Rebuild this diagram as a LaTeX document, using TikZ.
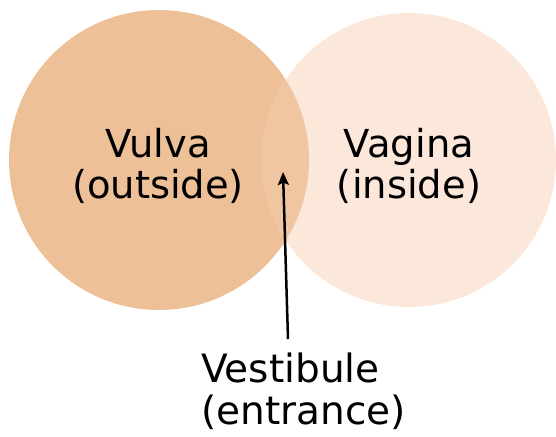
\documentclass[tikz,border=0pt]{standalone}
\usepackage{fontspec}
\setmainfont{DejaVu Sans}
\usetikzlibrary{arrows.meta}
\definecolor{vulvac}{RGB}{237,192,151}
\definecolor{vaginac}{RGB}{252,231,219}
\definecolor{overlapc}{RGB}{240,198,161}
\tikzset{
  lbl/.style={align=center, inner sep=0pt, font=\fontsize{38.5}{40.5}\selectfont, text=black},
  pointer/.style={line width=2.5pt, -{Stealth[length=13pt,width=11pt,inset=2.5pt]}}
}
\begin{document}
\begin{tikzpicture}[x=1pt,y=-1pt]
\useasboundingbox (0,0) rectangle (556,436);
\fill[vulvac] (159,160) circle[radius=150];
\fill[vaginac] (409,160) circle[radius=147];
\begin{scope}
  \clip (159,160) circle[radius=150];
  \fill[overlapc] (409,160) circle[radius=147];
\end{scope}
\node[lbl, anchor=base] (vulva) at (158,198) {Vulva\\(outside)};
\node[lbl, anchor=base] (vagina) at (409,198) {Vagina\\(inside)};
\node[lbl, anchor=base west, align=left, font=\fontsize{39}{42}\selectfont] (vest) at (201,424) {Vestibule\\(entrance)};
\coordinate (tail) at (288,339);
\coordinate (tip) at (283,172);
\draw[pointer] (tail) -- (tip);
\end{tikzpicture}
\end{document}
